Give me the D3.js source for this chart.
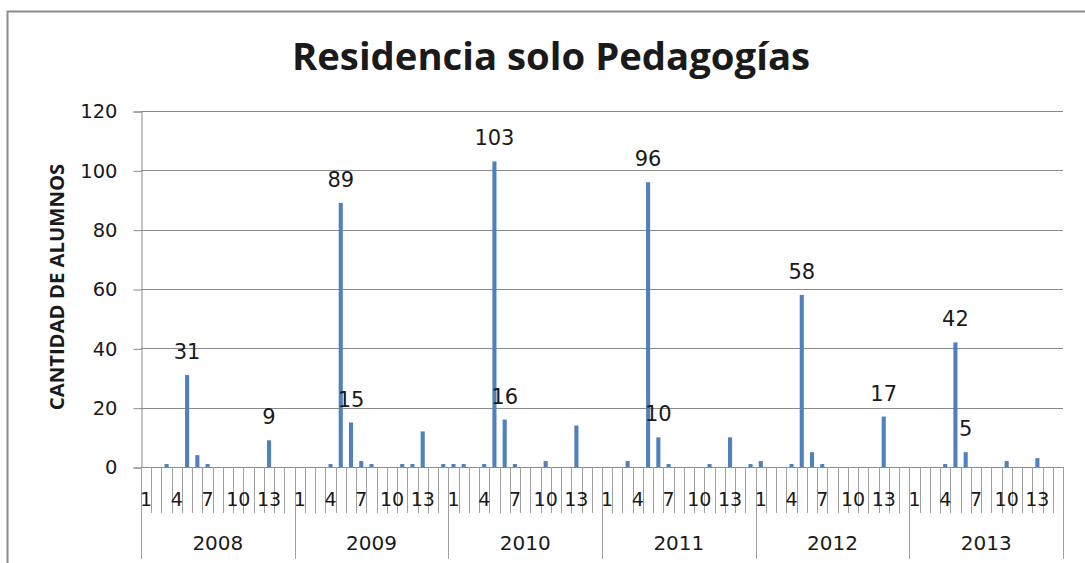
<!DOCTYPE html>
<html>
<head>
<meta charset="utf-8">
<script src="https://cdn.jsdelivr.net/npm/d3@7"></script>
<style>
  body { margin: 0; background: #fff; }
  text { font-family: "DejaVu Sans", sans-serif; fill: #1a1a1a; }
</style>
</head>
<body>
<div id="chart"></div>
<script>
// data: 15 categories per year
var years = ["2008", "2009", "2010", "2011", "2012", "2013"];
var categories = ["1", "2", "3", "4", "5", "6", "7", "8", "9", "10", "11", "12", "13", "14", "15"];
var values2008 = [0, 0, 1, 0, 31, 4, 1, 0, 0, 0, 0, 0, 9, 0, 0];
var values2009 = [0, 0, 0, 1, 89, 15, 2, 1, 0, 0, 1, 1, 12, 0, 1];
var values2010 = [1, 1, 0, 1, 103, 16, 1, 0, 0, 2, 0, 0, 14, 0, 0];
var values2011 = [0, 0, 2, 0, 96, 10, 1, 0, 0, 0, 1, 0, 10, 0, 1];
var values2012 = [2, 0, 0, 1, 58, 5, 1, 0, 0, 0, 0, 0, 17, 0, 0];
var values2013 = [0, 0, 0, 1, 42, 5, 0, 0, 0, 2, 0, 0, 3, 0, 0];
var yTicks = [0, 20, 40, 60, 80, 100, 120];
var catTickLabels = ["1", "4", "7", "10", "13"];
// bars that carry a value label
var labeledBars = ["2008-5", "2008-13", "2009-5", "2009-6", "2010-5", "2010-6",
                   "2011-5", "2011-6", "2012-5", "2012-13", "2013-5", "2013-6"];

var svgWidth = 1085;
var svgHeight = 563;

var plot = { left: 141, right: 1063, top: 111, bottom: 467 };

var svg = d3.select("#chart")
    .append("svg")
    .attr("width", svgWidth)
    .attr("height", svgHeight);

// outer frame (cut by the window on the right/bottom)
svg.append("rect")
    .attr("x", 7.5).attr("y", 11.5)
    .attr("width", 1200).attr("height", 700)
    .attr("fill", "none")
    .attr("stroke", "#8c8c8c")
    .attr("stroke-width", 2);

// flatten to one row per bar
var allValues = [values2008, values2009, values2010, values2011, values2012, values2013];
var rows = [];
years.forEach(function(y, i) {
    categories.forEach(function(c, j) {
        rows.push({ year: y, cat: c, key: y + "-" + c, value: allValues[i][j] });
    });
});

var xScale = d3.scaleBand()
    .domain(rows.map(d => d.key))
    .range([plot.left, plot.right])
    .paddingInner(0.6)
    .paddingOuter(0.3);

var yearScale = d3.scaleBand()
    .domain(years)
    .range([plot.left, plot.right]);

var yScale = d3.scaleLinear()
    .domain([0, 120])
    .range([plot.bottom, plot.top]);

// gridlines
svg.append("g")
    .selectAll("line")
    .data(yTicks.filter(d => d > 0))
    .enter()
    .append("line")
    .attr("x1", plot.left).attr("x2", plot.right)
    .attr("y1", d => Math.round(yScale(d)) + 0.5)
    .attr("y2", d => Math.round(yScale(d)) + 0.5)
    .attr("stroke", "#8a8a8a");

// y axis
var leftAxis = d3.axisLeft(yScale)
    .tickValues(yTicks)
    .tickSize(8)
    .tickPadding(16);
var yAxis = svg.append("g")
    .attr("transform", `translate(${plot.left + 0.5}, 0.5)`)
    .call(leftAxis);
yAxis.select(".domain").attr("stroke", "#8a8a8a");
yAxis.selectAll(".tick line").attr("stroke", "#8a8a8a");
yAxis.selectAll(".tick text")
    .style("font-size", "19.5px")
    .style("font-family", "DejaVu Sans")
    .attr("fill", "#1a1a1a");

// bars
svg.append("g")
    .selectAll("rect")
    .data(rows)
    .enter()
    .append("rect")
    .attr("x", d => xScale(d.key))
    .attr("width", xScale.bandwidth())
    .attr("y", d => yScale(d.value))
    .attr("height", d => yScale(0) - yScale(d.value))
    .attr("fill", "#4f81bd");

// x axis line
svg.append("line")
    .attr("x1", plot.left).attr("x2", plot.right)
    .attr("y1", plot.bottom + 0.5).attr("y2", plot.bottom + 0.5)
    .attr("stroke", "#8a8a8a");

// category separators
var step = xScale.step();
var catEdges = d3.range(rows.length + 1);
svg.append("g")
    .selectAll("line")
    .data(catEdges)
    .enter()
    .append("line")
    .attr("x1", i => Math.round(plot.left + i * step) + 0.5)
    .attr("x2", i => Math.round(plot.left + i * step) + 0.5)
    .attr("y1", plot.bottom)
    .attr("y2", i => (i % categories.length === 0) ? 559 : 513)
    .attr("stroke", "#a0a0a0");

// category tick labels
svg.append("g")
    .selectAll("text")
    .data(rows.filter(d => catTickLabels.indexOf(d.cat) >= 0))
    .enter()
    .append("text")
    .attr("x", d => xScale(d.key) + xScale.bandwidth() / 2)
    .attr("y", 506)
    .attr("text-anchor", "middle")
    .style("font-size", "19px")
    .text(d => d.cat);

// year labels
svg.append("g")
    .selectAll("text")
    .data(years)
    .enter()
    .append("text")
    .attr("x", d => yearScale(d) + yearScale.bandwidth() / 2)
    .attr("y", 550)
    .attr("text-anchor", "middle")
    .style("font-size", "20px")
    .text(d => d);

// value labels
svg.append("g")
    .selectAll("text")
    .data(rows.filter(d => labeledBars.indexOf(d.key) >= 0))
    .enter()
    .append("text")
    .attr("x", d => xScale(d.key) + xScale.bandwidth() / 2)
    .attr("y", d => yScale(d.value) - 16)
    .attr("text-anchor", "middle")
    .style("font-size", "21px")
    .text(d => d.value);

// fit a text node to a target length by scaling its font size
function fitText(sel, target) {
    var fs = parseFloat(sel.style("font-size"));
    var len = sel.node().getComputedTextLength();
    sel.style("font-size", (fs * target / len).toFixed(1) + "px");
}

// title
var title = svg.append("text")
    .attr("x", 551)
    .attr("y", 70)
    .attr("text-anchor", "middle")
    .style("font-family", "Open Sans")
    .style("font-weight", "bold")
    .style("font-size", "34px")
    .text("Residencia solo Pedagogías");
fitText(title, 518);

// y axis title
var yTitle = svg.append("text")
    .attr("transform", "translate(64, 287) rotate(-90)")
    .attr("text-anchor", "middle")
    .style("font-family", "Open Sans")
    .style("font-weight", "bold")
    .style("font-size", "17px")
    .text("CANTIDAD DE ALUMNOS");
fitText(yTitle, 247);
</script>
</body>
</html>
